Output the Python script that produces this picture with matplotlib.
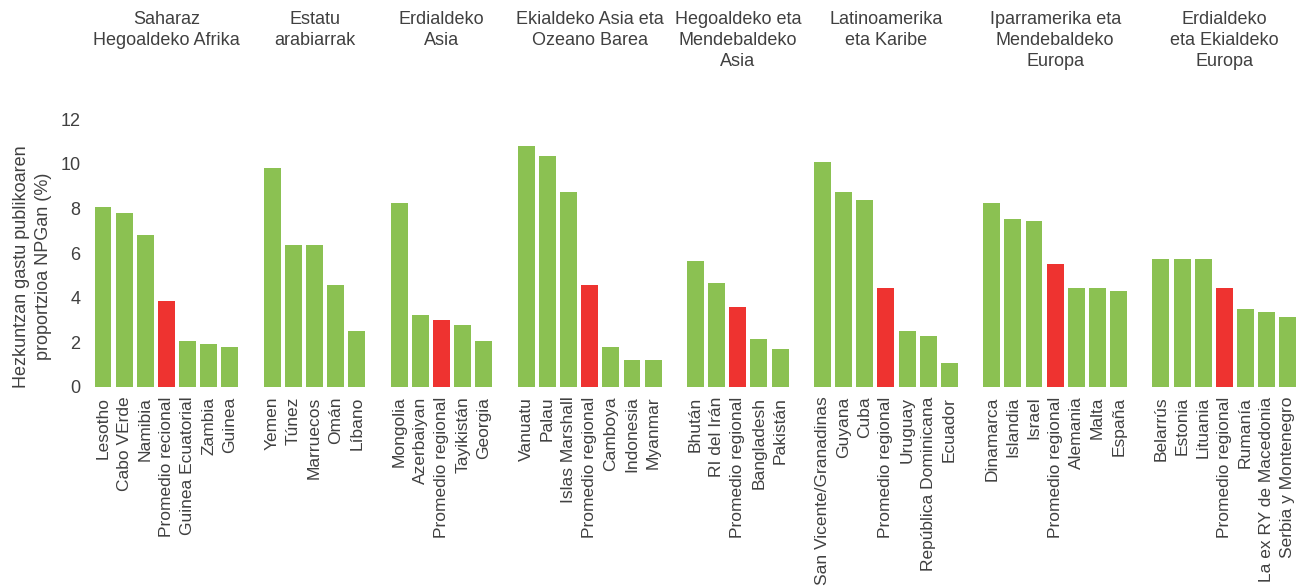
import matplotlib.pyplot as plt
import matplotlib.transforms as mtransforms

plt.rcParams['font.family'] = ['Liberation Sans', 'DejaVu Sans']

# eskualdeak (taldeen izenburuak)
regions = ['Saharaz\nHegoaldeko Afrika', 'Estatu\narabiarrak', 'Erdialdeko\nAsia',
           'Ekialdeko Asia eta\nOzeano Barea', 'Hegoaldeko eta\nMendebaldeko\nAsia',
           'Latinoamerika\neta Karibe', 'Iparramerika eta\nMendebaldeko\nEuropa',
           'Erdialdeko\neta Ekialdeko\nEuropa']

africa = ['Lesotho', 'Cabo VErde', 'Namibia', 'Promedio recional', 'Guinea Ecuatorial', 'Zambia', 'Guinea']
africa_v = [8.05, 7.82, 6.83, 3.87, 2.07, 1.93, 1.80]

arab = ['Yemen', 'Túnez', 'Marruecos', 'Omán', 'Líbano']
arab_v = [9.84, 6.38, 6.38, 4.58, 2.52]

casia = ['Mongolia', 'Azerbaiyan', 'Promedio regional', 'Tayikistán', 'Georgia']
casia_v = [8.27, 3.24, 3.01, 2.79, 2.07]

easia = ['Vanuatu', 'Palau', 'Islas Marshall', 'Promedio regional', 'Camboya', 'Indonesia', 'Myanmar']
easia_v = [10.79, 10.34, 8.76, 4.58, 1.80, 1.21, 1.21]

sasia = ['Bhután', 'RI del Irán', 'Promedio regional', 'Bangladesh', 'Pakistán']
sasia_v = [5.66, 4.67, 3.60, 2.16, 1.71]

latam = ['San Vicente/Granadinas', 'Guyana', 'Cuba', 'Promedio regional', 'Uruguay', 'República Dominicana', 'Ecuador']
latam_v = [10.07, 8.76, 8.40, 4.45, 2.52, 2.29, 1.08]

weur = ['Dinamarca', 'Islandia', 'Israel', 'Promedio regional', 'Alemania', 'Malta', 'España']
weur_v = [8.27, 7.55, 7.46, 5.53, 4.45, 4.45, 4.31]

ceur = ['Belarrús', 'Estonia', 'Lituania', 'Promedio regional', 'Rumanía', 'La ex RY de Macedonia', 'Serbia y Montenegro']
ceur_v = [5.75, 5.75, 5.75, 4.45, 3.51, 3.37, 3.15]

groups = [(africa, africa_v), (arab, arab_v), (casia, casia_v), (easia, easia_v),
          (sasia, sasia_v), (latam, latam_v), (weur, weur_v), (ceur, ceur_v)]

green = '#8BC152'
red = '#EE3330'
txt = '#404040'

fig = plt.figure(figsize=(12.96, 5.88), dpi=100)
ax = fig.add_axes([0.0705, 0.342, 0.9306, 0.455])

xs, labels, centers = [], [], []
pos = 0
for names, vals in groups:
    gx = list(range(pos, pos + len(names)))
    cols = [red if n.startswith('Promedio') else green for n in names]
    ax.bar(gx, vals, width=0.8, color=cols)
    xs += gx
    labels += names
    centers.append((gx[0] + gx[-1]) / 2)
    pos += len(names) + 1

ax.set_xlim(-0.55, pos - 1 - 0.55)
ax.set_ylim(0, 12)
ax.set_yticks(range(0, 13, 2))
ax.set_xticks(xs)
ax.set_xticklabels(labels, rotation=90, fontsize=12.5, color=txt)
ax.tick_params(axis='x', length=0, pad=7)
ax.tick_params(axis='y', length=0, pad=8, labelsize=13, labelcolor=txt)
for s in ax.spines.values():
    s.set_visible(False)

ax.set_ylabel('Hezkuntzan gastu publikoaren\nproportzioa NPGan (%)', fontsize=13, color=txt,
              linespacing=1.35)
ax.yaxis.set_label_coords(-0.033, 0.45)

trans = mtransforms.blended_transform_factory(ax.transData, fig.transFigure)
for c, r in zip(centers, regions):
    ax.text(c, 1 - 11 / 588, r, transform=trans, ha='center', va='top', fontsize=13,
            color=txt, linespacing=1.3)

fig.savefig('out.png', dpi=100)
